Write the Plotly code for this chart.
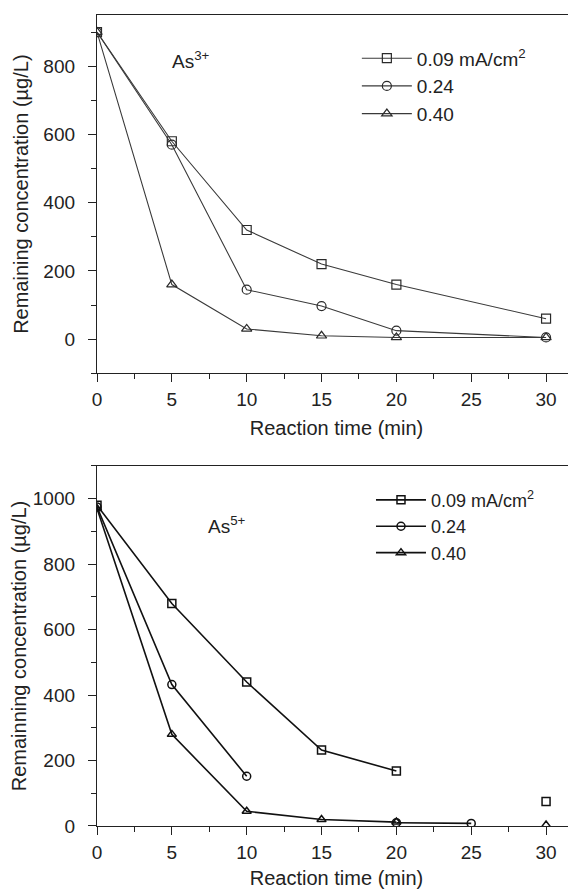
import plotly.graph_objects as go

# ---- Data ----
time_top = [0, 5, 10, 15, 20, 30]
as3_009 = [900, 580, 320, 220, 160, 60]
as3_024 = [900, 570, 145, 97, 25, 5]
as3_040 = [900, 160, 30, 10, 5, 5]

time_bot = [0, 5, 10, 15, 20, 25, 30]
as5_009 = [980, 680, 440, 232, 168, None, 75]
as5_024 = [975, 432, 152, None, 10, 8, None]
as5_040 = [970, 280, 45, 20, 12, None, 3]

labels = ["0.09 mA/cm<sup>2</sup>", "0.24", "0.40"]
symbols = ["square-open", "circle-open", "triangle-up-open"]

FONT = "Liberation Sans, Arial, sans-serif"
TXT = "#222222"

fig = go.Figure()

top_series = [as3_009, as3_024, as3_040]
for lab, sym, ys in zip(labels, symbols, top_series):
    fig.add_trace(go.Scatter(
        x=time_top, y=ys, name=lab, mode="lines+markers",
        line=dict(color="#3a3a3a", width=1.1),
        marker=dict(symbol=sym, size=9, color="#2a2a2a", line=dict(width=1.2, color="#2a2a2a")),
        xaxis="x", yaxis="y", legend="legend",
    ))

bot_series = [as5_009, as5_024, as5_040]
for lab, sym, ys in zip(labels, symbols, bot_series):
    fig.add_trace(go.Scatter(
        x=time_bot, y=ys, name=lab, mode="lines+markers",
        line=dict(color="#111111", width=1.6),
        marker=dict(symbol=sym, size=8, color="#111111", line=dict(width=1.5, color="#111111")),
        xaxis="x2", yaxis="y2", legend="legend2",
    ))

axis_common = dict(
    showgrid=False, zeroline=False, showline=True, linecolor="#222222", linewidth=1.3,
    ticks="outside", ticklen=8, tickwidth=1.2, tickcolor="#222222",
    tickfont=dict(family=FONT, size=19, color=TXT), automargin=False,
)
minor_x = dict(dtick=2.5, ticklen=5, ticks="outside", tickcolor="#222222", tickwidth=1.2)
minor_y = dict(dtick=100, ticklen=5, ticks="outside", tickcolor="#222222", tickwidth=1.2)
title_font = dict(family=FONT, size=20, color=TXT)

fig.update_layout(
    width=568, height=881,
    margin=dict(l=89, r=0, t=7, b=63),
    paper_bgcolor="white", plot_bgcolor="white",
    font=dict(family=FONT, size=18, color=TXT),
    showlegend=True,
    xaxis=dict(**axis_common, domain=[0, 1], anchor="y", range=[0, 32], dtick=5, tick0=0,
               mirror=True, minor=minor_x, ticklabelstandoff=1,
               title=dict(text="Reaction time (min)", font=title_font, standoff=11)),
    yaxis=dict(**axis_common, domain=[0.5582, 1], anchor="x", range=[-100, 950], dtick=200, tick0=0,
               minor=minor_y, ticklabelstandoff=9,
               title=dict(text="Remaining concentration (µg/L)", font=title_font, standoff=9)),
    xaxis2=dict(**axis_common, domain=[0, 1], anchor="y2", range=[0, 32], dtick=5, tick0=0,
                mirror=True, minor=minor_x, ticklabelstandoff=1,
                title=dict(text="Reaction time (min)", font=title_font, standoff=10)),
    yaxis2=dict(**axis_common, domain=[0, 0.4439], anchor="x2", range=[0, 1100], dtick=200, tick0=0,
                minor=minor_y, ticklabelstandoff=9,
                title=dict(text="Remainning concentration (µg/L)", font=title_font, standoff=9)),
    legend=dict(x=0.5425, y=0.970, xanchor="left", yanchor="top", bgcolor="rgba(0,0,0,0)",
                font=dict(family=FONT, size=19, color=TXT), itemwidth=50, tracegroupgap=0),
    legend2=dict(x=0.572, y=0.4246, xanchor="left", yanchor="top", bgcolor="rgba(0,0,0,0)",
                 font=dict(family=FONT, size=18, color=TXT), itemwidth=50, tracegroupgap=0),
    annotations=[
        dict(text="As<sup>3+</sup>", xref="x", yref="y", x=4.88, y=817, xanchor="left", yanchor="middle",
             showarrow=False, font=dict(family=FONT, size=19, color=TXT)),
        dict(text="As<sup>5+</sup>", xref="x2", yref="y2", x=7.25, y=920, xanchor="left", yanchor="middle",
             showarrow=False, font=dict(family=FONT, size=19, color=TXT)),
    ],
)

fig.write_html("out.html")
